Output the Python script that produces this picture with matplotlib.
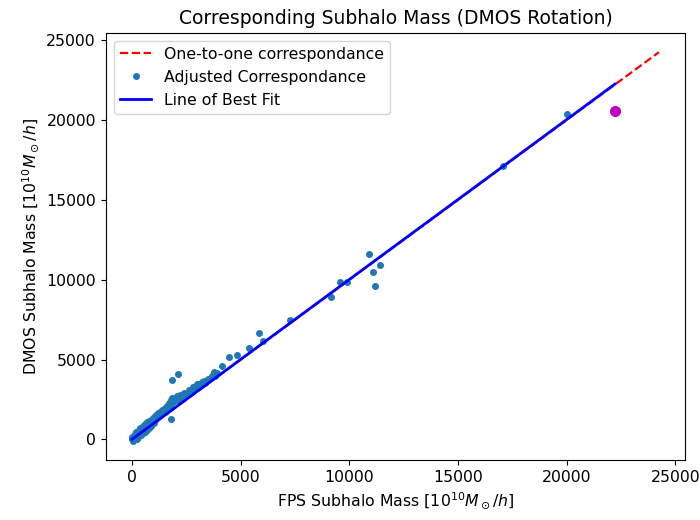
import numpy as np
import matplotlib
matplotlib.use('Agg')
import matplotlib.pyplot as plt

plt.rcParams['font.size'] = 11.3

# ---- data (units of 1e10 Msun/h) ----
fps_mass = [0, 20, 50, 80, 100, 120, 150, 180, 200, 220, 250, 280, 300, 320, 350,
            380, 400, 420, 450, 480, 500, 520, 550, 580, 600, 650, 680, 700, 750,
            780, 800, 850, 880, 900, 950, 1000, 1000, 1050, 1100, 1150, 1200, 1250,
            1300, 1350, 1400, 1450, 1500, 1550, 1600, 1650, 1700, 1750, 1800, 1850,
            1900, 1950, 2000, 2050, 2100, 2200, 2300, 2400, 2500, 2600, 2700, 2800,
            2900, 3000, 3100, 3200, 3300, 3400, 3500, 3700, 3800, 3900,
            600, 900, 1200, 1500, 1700, 2250, 2650, 3050, 3350,
            1860, 2130, 1790, 3760, 4150, 4450, 4820, 5380, 5850, 6030, 7280,
            9140, 9550, 9880, 10900, 11080, 11180, 11410, 17070, 20000]
dmos_mass = [0, 150, -80, 220, 30, 350, 180, 500, 250, 50, 450, 280, 620, 200, 400,
             700, 450, 300, 750, 550, 400, 850, 650, 500, 950, 800, 600, 1100, 950,
             750, 1150, 1000, 850, 1300, 1150, 1400, 1050, 1250, 1550, 1350, 1650, 1450,
             1750, 1600, 1850, 1700, 2000, 1800, 2100, 1950, 2300, 2100, 2450, 2600,
             2350, 2550, 2500, 2700, 2500, 2800, 2700, 2900, 2850, 3100, 3050, 3300,
             3250, 3450, 3500, 3600, 3650, 3650, 3800, 4000, 3950, 4150,
             700, 1100, 1450, 1750, 2000, 2550, 2950, 3300, 3550,
             3740, 4110, 1280, 4230, 4580, 5170, 5260, 5730, 6660, 6160, 7470,
             8930, 9840, 9840, 11640, 10460, 9590, 10900, 17120, 20380]

# highlighted subhalo
special_fps = [22220]
special_dmos = [20550]

# one-to-one reference range and best-fit parameters
one_to_one = [0, 24250]
fit_slope = 1.001
fit_intercept = 10.0

fig = plt.figure(figsize=(7, 5.2), dpi=100)
ax = fig.add_axes([0.151, 0.115, 0.828, 0.822])

ax.plot(one_to_one, one_to_one, 'r--', lw=1.6, label='One-to-one correspondance')
ax.plot(fps_mass, dmos_mass, '.', color='#1f77b4', ms=8, label='Adjusted Correspondance')
xfit = np.array([min(fps_mass), max(special_fps)])
ax.plot(xfit, fit_slope * xfit + fit_intercept, 'b-', lw=2.0, label='Line of Best Fit')
ax.plot(special_fps, special_dmos, 'mo', ms=7)

ax.set_xticks([0, 5000, 10000, 15000, 20000, 25000])
ax.set_yticks([0, 5000, 10000, 15000, 20000, 25000])
ax.set_title('Corresponding Subhalo Mass (DMOS Rotation)', fontsize=13.5)
ax.set_xlabel(r'FPS Subhalo Mass [$10^{10} M_\odot/h$]')
ax.set_ylabel(r'DMOS Subhalo Mass [$10^{10} M_\odot/h$]')
ax.legend(loc='upper left')

plt.savefig('out.png', dpi=100)
